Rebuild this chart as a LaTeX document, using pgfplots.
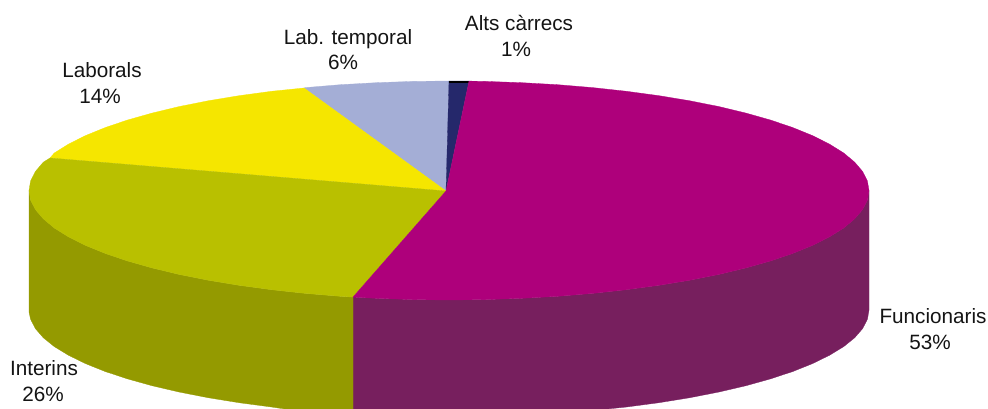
\documentclass[border=0pt]{standalone}
\usepackage{fontspec}
\setmainfont{Liberation Sans}
\usepackage{pgfplots}
\pgfplotsset{compat=1.18}
\definecolor{cMag}{HTML}{AE007B}
\definecolor{cMagS}{HTML}{771F5E}
\definecolor{cOl}{HTML}{B9C000}
\definecolor{cOlS}{HTML}{949A00}
\definecolor{cYe}{HTML}{F5E600}
\definecolor{cBl}{HTML}{A4AED6}
\definecolor{cNa}{HTML}{25286B}
\begin{document}
\begin{tikzpicture}
\begin{axis}[
  hide axis, scale only axis, width=988pt, height=409pt,
  xmin=0, xmax=988, ymin=0, ymax=409, y dir=reverse,
  enlargelimits=false, clip=true,
  every axis plot/.append style={no markers, line width=0.3pt},
]
% side of Funcionaris
\addplot[fill=cMagS, draw=cMagS] coordinates {
(869,190.5)(867.4,200)(862.6,209.5)(854.7,218.8)(843.7,228)(829.6,236.8)(812.7,245.3)(793.1,253.3)(770.7,260.9)(746,267.9)(719,274.4)(689.9,280.2)(659,285.3)(626.5,289.7)(592.6,293.4)(557.7,296.3)(521.9,298.3)(485.6,299.6)(449,300)(412.4,299.6)(376.1,298.3)(353,297.1)
(353,409)(607,409)(626.5,407)(659,402.7)(689.9,397.7)(719,392)(746,385.7)(770.7,378.8)(793.1,371.4)(812.7,363.5)(829.6,355.2)(843.7,346.6)(854.7,337.7)(862.6,328.6)(867.4,319.3)(869,310)
} --cycle;
% side of Interins
\addplot[fill=cOlS, draw=cOlS] coordinates {
(353,297.1)(340.3,296.3)(305.4,293.4)(271.5,289.7)(239,285.3)(208.1,280.2)(179,274.4)(152,267.9)(127.3,260.9)(104.9,253.3)(85.3,245.3)(68.4,236.8)(54.3,228)(43.3,218.8)(35.4,209.5)(30.6,200)(29,190.5)
(29,312)(30.6,319.3)(35.4,328.6)(43.3,337.7)(54.3,346.6)(68.4,355.2)(85.3,363.5)(104.9,371.4)(127.3,378.8)(152,385.7)(179,392)(208.1,397.7)(239,402.7)(271.5,407)(285,409)(353,409)
} --cycle;
% top: Lab. temporal
\addplot[fill=cBl, draw=cBl] coordinates {
(446,191)(304,88)(305.4,87.6)(340.3,84.7)(376.1,82.7)(412.4,81.4)(449,81)
} --cycle;
% top: Laborals
\addplot[fill=cYe, draw=cYe] coordinates {
(446,191)(50,158)(54.3,153)(68.4,144.2)(85.3,135.7)(104.9,127.7)(127.3,120.1)(152,113.1)(179,106.6)(208.1,100.8)(239,95.7)(271.5,91.3)(304,88)
} --cycle;
% top: Interins
\addplot[fill=cOl, draw=cOl] coordinates {
(446,191)(353,297.1)(340.3,296.3)(305.4,293.4)(271.5,289.7)(239,285.3)(208.1,280.2)(179,274.4)(152,267.9)(127.3,260.9)(104.9,253.3)(85.3,245.3)(68.4,236.8)(54.3,228)(43.3,218.8)(35.4,209.5)(30.6,200)(29,190.5)(30.6,181)(35.4,171.5)(43.3,162.2)(50,158)
} --cycle;
% top: Alts carrecs
\addplot[fill=cNa, draw=cNa] coordinates {
(446,191)(449,81)(469,81.1)
} --cycle;
\addplot[draw=black, line width=1.5pt] coordinates {(449,81.8)(469,81.8)};
% top: Funcionaris
\addplot[fill=cMag, draw=cMag] coordinates {
(446,191)(469,81.1)(485.6,81.4)(521.9,82.7)(557.7,84.7)(592.6,87.6)(626.5,91.3)(659,95.7)(689.9,100.8)(719,106.6)(746,113.1)(770.7,120.1)(793.1,127.7)(812.7,135.7)(829.6,144.2)(843.7,153)(854.7,162.2)(862.6,171.5)(867.4,181)(869,190.5)(867.4,200)(862.6,209.5)(854.7,218.8)(843.7,228)(829.6,236.8)(812.7,245.3)(793.1,253.3)(770.7,260.9)(746,267.9)(719,274.4)(689.9,280.2)(659,285.3)(626.5,289.7)(592.6,293.4)(557.7,296.3)(521.9,298.3)(485.6,299.6)(449,300)(412.4,299.6)(376.1,298.3)(353,297.1)
} --cycle;
\node[inner sep=0pt, minimum size=0pt] at (axis cs:0,0) {};
\node[inner sep=0pt, minimum size=0pt] at (axis cs:988,409) {};
\begin{scope}[every node/.style={anchor=base, inner sep=0pt, font=\fontsize{20.7pt}{24pt}\selectfont, text=black!92}]
\node at (axis cs:519,31) {Alts càrrecs};
\node at (axis cs:516,57) {1\%};
\node at (axis cs:348,45) {Lab. temporal};
\node at (axis cs:343,70) {6\%};
\node at (axis cs:102,78) {Laborals};
\node at (axis cs:100,104) {14\%};
\node at (axis cs:44,375) {Interins};
\node at (axis cs:43,401) {26\%};
\node at (axis cs:933,323) {Funcionaris};
\node at (axis cs:930,349) {53\%};
\end{scope}
\end{axis}
\end{tikzpicture}
\end{document}
